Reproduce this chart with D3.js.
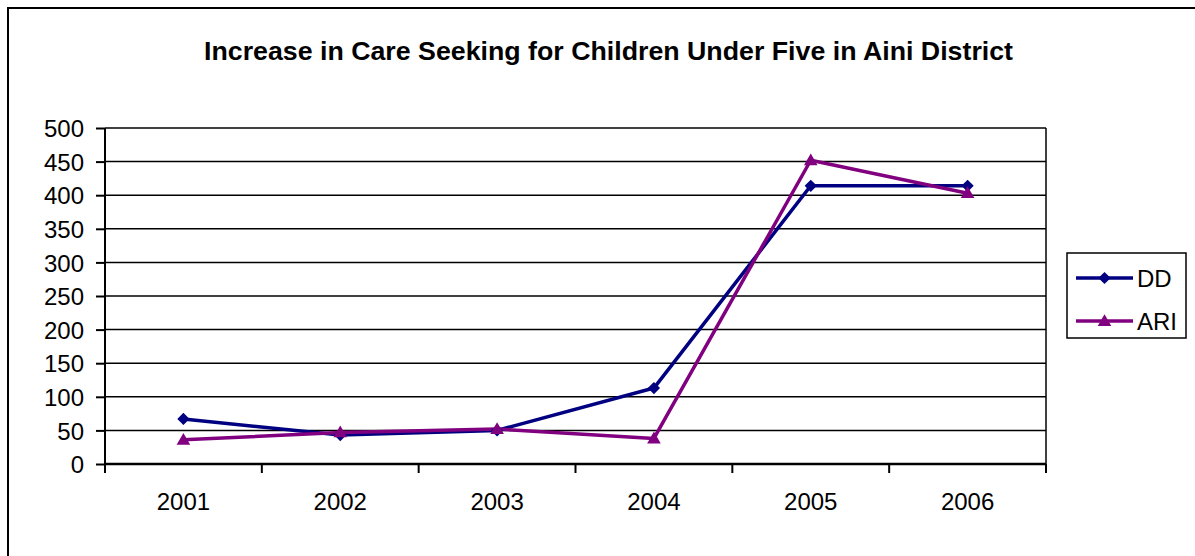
<!DOCTYPE html>
<html><head><meta charset="utf-8">
<script src="https://cdn.jsdelivr.net/npm/d3@7"></script>
<style>body{margin:0;background:#fff;}svg{display:block;}</style>
</head><body>
<svg id="chart" width="1195" height="556"></svg>
<script>
const title = "Increase in Care Seeking for Children Under Five in Aini District";
const years = ["2001","2002","2003","2004","2005","2006"];
const ddValues = [67, 43, 50, 113, 414, 414];
const ariValues = [36, 47, 52, 38, 452, 403];
const yTicks = [0,50,100,150,200,250,300,350,400,450,500];
const seriesNames = ["DD","ARI"];
const seriesColors = ["#000080","#800080"];

(function(){
const svg = d3.select("#chart");
const font = "Arial, 'Liberation Sans', sans-serif";
const pLeft = 105, pRight = 1046, pTop = 128, pBottom = 464;

// outer frame
svg.append("path").attr("d","M8,556 V8 H1195").attr("fill","none").attr("stroke","#000").attr("stroke-width",2);

svg.append("text").attr("x",608.5).attr("y",60).attr("text-anchor","middle")
  .attr("font-family",font).attr("font-weight","bold").attr("font-size",25)
  .attr("textLength",809).attr("lengthAdjust","spacingAndGlyphs").text(title);

const x = d3.scaleBand().domain(years).range([pLeft,pRight]).padding(0);
const y = d3.scaleLinear().domain([0,500]).range([pBottom,pTop]);

// gridlines
svg.append("g").selectAll("line").data(yTicks.filter(d=>d>0)).join("line")
  .attr("x1",pLeft).attr("x2",pRight).attr("y1",d=>y(d)).attr("y2",d=>y(d))
  .attr("stroke","#000").attr("stroke-width",1.5);
svg.append("line").attr("x1",pRight).attr("x2",pRight).attr("y1",pTop).attr("y2",pBottom)
  .attr("stroke","#000").attr("stroke-width",1.5);

// y axis
const yAxis = d3.axisLeft(y).tickValues(yTicks).tickSize(9).tickPadding(12);
const gy = svg.append("g").attr("transform",`translate(${pLeft},0)`).call(yAxis);
gy.select(".domain").attr("stroke","#000").attr("stroke-width",2).attr("d",`M0,${pTop}V${pBottom}`);
gy.selectAll(".tick line").attr("stroke","#000").attr("stroke-width",2);
gy.selectAll("text").attr("font-family",font).attr("font-size",24).attr("fill","#000").attr("dy","0.36em");

// x axis
const gx = svg.append("g").attr("transform",`translate(0,${pBottom})`);
gx.append("line").attr("x1",pLeft).attr("x2",pRight).attr("stroke","#000").attr("stroke-width",2.5);
const bounds = years.map(d=>x(d)).concat([pRight]);
gx.selectAll("line.tk").data(bounds).join("line").attr("class","tk")
  .attr("x1",d=>d).attr("x2",d=>d).attr("y1",0).attr("y2",9).attr("stroke","#000").attr("stroke-width",2);
gx.selectAll("text").data(years).join("text")
  .attr("x",d=>x(d)+x.bandwidth()/2).attr("y",46).attr("text-anchor","middle")
  .attr("font-family",font).attr("font-size",24).text(d=>d);

const cx = d => x(d)+x.bandwidth()/2;
const line = d3.line().x((d,i)=>cx(years[i])).y(d=>y(d));
const seriesData = [ddValues, ariValues];
const diamond = d3.symbol().type(d3.symbolSquare).size(75);
const triangle = d3.symbol().type(d3.symbolTriangle).size(80);
const mk = (si, tx, ty) => si===0 ? `translate(${tx},${ty}) rotate(45)` : `translate(${tx},${ty+1})`;

seriesData.forEach((vals,si)=>{
  svg.append("path").datum(vals).attr("d",line).attr("fill","none")
    .attr("stroke",seriesColors[si]).attr("stroke-width",3.5).attr("stroke-linejoin","round");
});
seriesData.forEach((vals,si)=>{
  svg.append("g").selectAll("path").data(vals).join("path")
    .attr("transform",(d,i)=>mk(si, cx(years[i]), y(d)))
    .attr("d", si===0 ? diamond() : triangle())
    .attr("fill",seriesColors[si]);
});

// legend
const lg = svg.append("g");
lg.append("rect").attr("x",1067).attr("y",253).attr("width",119).attr("height",85)
  .attr("fill","#fff").attr("stroke","#000").attr("stroke-width",1.5);
seriesNames.forEach((n,i)=>{
  const yy = 278 + i*43;
  lg.append("line").attr("x1",1076).attr("x2",1133).attr("y1",yy).attr("y2",yy)
    .attr("stroke",seriesColors[i]).attr("stroke-width",3.5);
  lg.append("path").attr("transform",mk(i,1104.5,yy))
    .attr("d", i===0 ? diamond() : triangle()).attr("fill",seriesColors[i]);
  lg.append("text").attr("x",1137).attr("y",yy).attr("dy","0.36em")
    .attr("font-family",font).attr("font-size",24).text(n);
});
})();
</script>
</body></html>
